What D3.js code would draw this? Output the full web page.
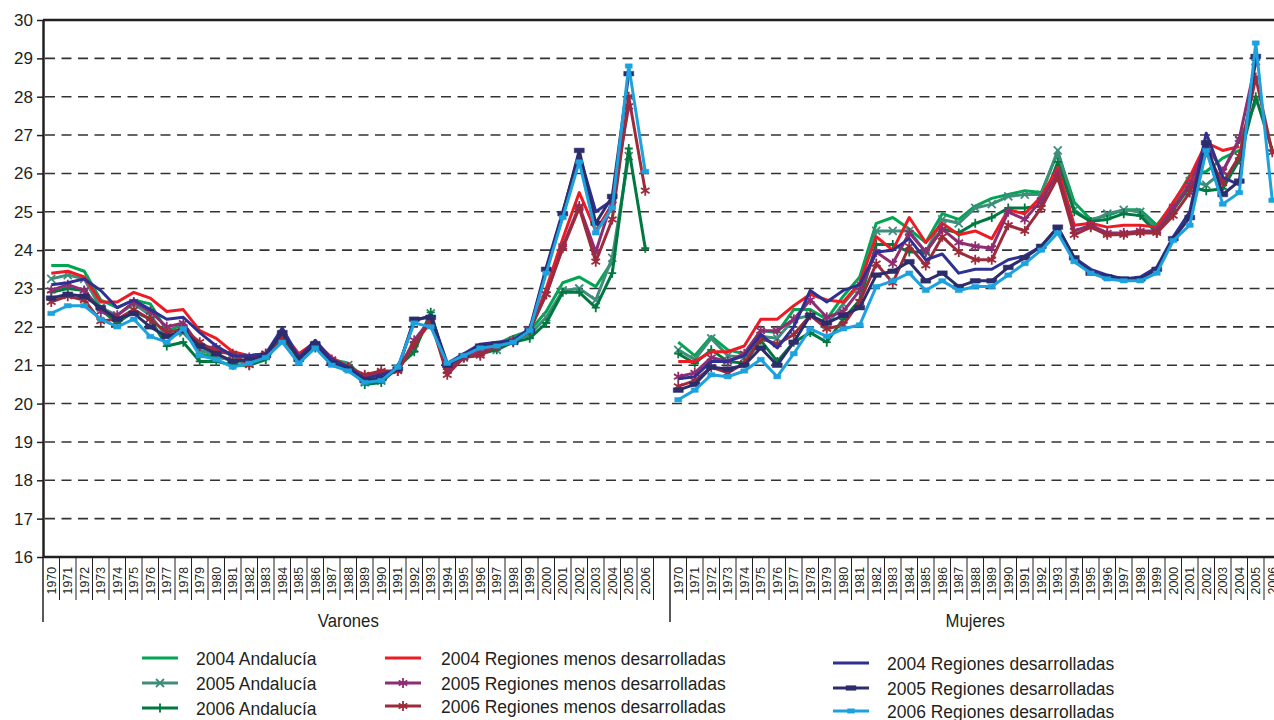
<!DOCTYPE html>
<html>
<head>
<meta charset="utf-8">
<script src="https://cdn.jsdelivr.net/npm/d3@7"></script>
<style>
  html, body { margin: 0; padding: 0; background: #fff; overflow: hidden; }
  svg { display: block; }
</style>
</head>
<body>
<svg id="chart" width="1274" height="720"></svg>
<script>
// ---- categories ----
const years = [1970,1971,1972,1973,1974,1975,1976,1977,1978,1979,1980,1981,1982,1983,1984,1985,1986,1987,1988,1989,
               1990,1991,1992,1993,1994,1995,1996,1997,1998,1999,2000,2001,2002,2003,2004,2005,2006];
const groups = ["Varones", "Mujeres"];
const yTicks = [16,17,18,19,20,21,22,23,24,25,26,27,28,29,30];

const seriesNames = [
  "2004 Andalucía", "2005 Andalucía", "2006 Andalucía",
  "2004 Regiones menos desarrolladas", "2005 Regiones menos desarrolladas", "2006 Regiones menos desarrolladas",
  "2004 Regiones desarrolladas", "2005 Regiones desarrolladas", "2006 Regiones desarrolladas"
];

// ---- Varones (1970–2006) ----
const varAnd2004 = [23.6,23.6,23.45,22.7,22.5,22.7,22.6,21.9,22.05,21.3,21.2,21.15,21.1,21.2,21.8,21.25,21.55,21.15,21.05,20.65,
                    20.65,20.95,21.4,22.3,20.95,21.25,21.4,21.55,21.75,21.9,22.4,23.15,23.3,23.05,23.7,null,null];
const varAnd2005 = [23.25,23.35,23.25,22.5,22.3,22.6,22.3,21.75,21.85,21.4,21.25,21.1,21.05,21.25,21.75,21.2,21.5,21.1,21.0,20.55,
                    20.6,20.9,21.45,22.35,20.9,21.2,21.35,21.4,21.65,21.8,22.25,22.95,23.0,22.7,23.8,26.45,null];
const varAnd2006 = [22.9,23.0,22.95,22.45,22.1,22.4,22.2,21.5,21.6,21.1,21.1,21.0,21.0,21.15,21.7,21.2,21.45,21.1,20.95,20.5,
                    20.55,20.95,21.35,22.38,20.9,21.2,21.3,21.4,21.6,21.7,22.1,22.9,22.9,22.5,23.4,26.65,24.05];
const varRmd2004 = [23.4,23.45,23.3,22.65,22.65,22.9,22.75,22.4,22.45,21.9,21.7,21.35,21.25,21.3,21.85,21.3,21.6,21.2,20.95,20.7,
                    20.8,20.85,21.6,22.1,20.9,21.25,21.4,21.5,21.6,21.9,23.0,24.3,25.5,24.5,25.2,null,null];
const varRmd2005 = [22.95,23.1,22.95,22.4,22.3,22.65,22.4,22.0,22.1,21.5,21.45,21.25,21.2,21.3,21.8,21.2,21.55,21.15,20.95,20.7,
                    20.8,20.85,21.65,22.2,20.85,21.2,21.3,21.5,21.65,21.95,22.85,24.1,25.15,23.95,25.3,27.75,null];
const varRmd2006 = [22.65,22.8,22.7,22.15,22.2,22.45,22.2,21.85,21.95,21.6,21.35,21.3,21.0,21.3,21.75,21.2,21.55,21.1,20.95,20.75,
                    20.85,20.85,21.55,22.15,20.75,21.2,21.25,21.5,21.6,21.9,22.85,24.05,25.1,23.7,24.8,28.0,25.55];
const varRd2004  = [23.1,23.15,23.25,22.95,22.5,22.7,22.45,22.2,22.25,21.85,21.5,21.25,21.25,21.3,21.97,21.2,21.65,21.15,20.95,20.65,
                    20.75,20.9,22.15,22.3,21.05,21.3,21.55,21.6,21.65,21.95,23.55,25.0,26.5,25.0,25.3,null,null];
const varRd2005  = [22.75,22.85,22.8,22.5,22.2,22.35,22.0,21.75,21.9,21.5,21.3,21.1,21.15,21.25,21.85,21.15,21.55,21.05,20.9,20.6,
                    20.65,20.9,22.2,22.25,21.0,21.25,21.5,21.55,21.6,21.9,23.5,24.95,26.6,24.7,25.4,28.6,null];
const varRd2006  = [22.35,22.55,22.55,22.2,22.0,22.2,21.75,21.6,21.95,21.25,21.15,20.95,21.05,21.2,21.6,21.05,21.45,21.0,20.85,20.55,
                    20.6,20.95,22.1,22.0,21.05,21.25,21.45,21.5,21.6,21.9,23.4,24.85,26.3,24.45,25.1,28.8,26.05];

// ---- Mujeres (1970–2006) ----
const mujAnd2004 = [21.6,21.25,21.75,21.4,21.3,21.9,21.85,22.45,22.45,22.2,22.8,23.3,24.7,24.85,24.55,24.2,24.95,24.8,25.15,25.35,
                    25.45,25.55,25.5,26.55,25.25,24.8,24.9,25.05,25.05,24.65,25.2,25.95,26.05,26.4,26.6,null,null];
const mujAnd2005 = [21.4,21.15,21.7,21.25,21.2,21.75,21.7,22.2,22.3,22.05,22.6,23.1,24.5,24.5,24.5,23.95,24.8,24.7,25.1,25.2,
                    25.4,25.45,25.45,26.6,25.05,24.75,24.95,25.05,25.0,24.55,25.1,25.8,25.7,26.05,26.85,27.85,null];
const mujAnd2006 = [21.3,21.05,21.4,21.1,21.05,21.65,21.1,21.6,21.85,21.6,22.2,22.7,24.15,24.15,23.95,23.95,24.55,24.45,24.7,24.85,
                    25.1,25.1,25.15,26.3,25.0,24.75,24.8,24.95,24.9,24.45,25.05,25.65,25.55,25.6,26.35,28.0,26.6];
const mujRmd2004 = [21.1,21.1,21.35,21.35,21.5,22.2,22.2,22.55,22.85,22.7,22.65,23.15,24.35,24.0,24.85,24.2,24.7,24.4,24.5,24.3,
                    25.05,24.95,25.4,26.15,24.65,24.7,24.6,24.65,24.65,24.6,25.25,25.9,26.8,26.6,26.7,null,null];
const mujRmd2005 = [20.7,20.8,21.2,21.1,21.3,21.9,21.9,22.2,22.7,22.25,22.4,22.95,23.95,23.65,24.45,23.95,24.55,24.2,24.1,24.05,
                    25.0,24.8,25.3,26.0,24.5,24.65,24.45,24.45,24.5,24.5,25.1,25.7,26.75,26.05,26.9,28.9,null];
const mujRmd2006 = [20.45,20.6,20.95,20.8,21.05,21.7,21.55,21.8,22.3,21.95,22.05,22.65,23.65,23.15,24.1,23.6,24.35,23.95,23.75,23.75,
                    24.65,24.5,25.1,25.9,24.4,24.6,24.4,24.4,24.45,24.45,24.9,25.5,26.55,25.75,26.45,28.5,26.55];
const mujRd2004  = [20.65,20.7,21.1,21.1,21.25,21.8,21.45,22.0,22.95,22.65,22.95,23.1,23.95,24.0,24.3,23.75,23.9,23.4,23.5,23.5,
                    23.75,23.85,24.1,24.6,23.8,23.5,23.35,23.25,23.3,23.55,24.35,25.0,27.05,25.9,25.7,null,null];
const mujRd2005  = [20.35,20.5,20.95,20.9,21.0,21.45,21.0,21.6,22.3,22.1,22.3,22.5,23.35,23.45,23.7,23.2,23.4,23.05,23.2,23.2,
                    23.55,23.8,24.1,24.6,23.8,23.4,23.3,23.25,23.25,23.5,24.3,24.85,26.8,25.45,25.8,29.05,null];
const mujRd2006  = [20.1,20.35,20.75,20.7,20.85,21.15,20.7,21.3,21.95,21.75,21.95,22.05,23.05,23.2,23.4,22.95,23.2,22.95,23.05,23.05,
                    23.35,23.65,24.0,24.45,23.7,23.4,23.25,23.2,23.2,23.4,24.25,24.65,26.6,25.2,25.5,29.4,25.3];

const varonesSeries = [varAnd2004, varAnd2005, varAnd2006, varRmd2004, varRmd2005, varRmd2006, varRd2004, varRd2005, varRd2006];
const mujeresSeries = [mujAnd2004, mujAnd2005, mujAnd2006, mujRmd2004, mujRmd2005, mujRmd2006, mujRd2004, mujRd2005, mujRd2006];

// ---- look of each series ----
const styles = [
  { color: "#00a651", marker: null },
  { color: "#3f8d7c", marker: "x" },
  { color: "#00793f", marker: "plus" },
  { color: "#ed1c24", marker: null },
  { color: "#8f2d72", marker: "star" },
  { color: "#9c2b3b", marker: "star" },
  { color: "#2e3192", marker: null },
  { color: "#2c2d6b", marker: "bar" },
  { color: "#1ca2de", marker: "tick" }
];

const ink = "#231f20";
const textFont = "'Liberation Sans', Arial, sans-serif";
const svg = d3.select("#chart");

// ---- scales ----
const band = 16.5;
const keys = [];
groups.forEach(g => { years.forEach(yr => keys.push(g + "|" + yr)); keys.push(g + "|"); });
const x = d3.scaleBand().domain(keys).range([43, 43 + keys.length * band]).padding(0);
const y = d3.scaleLinear().domain([16, 30]).range([557, 20]);
const xRight = x.range()[1];

// ---- grid ----
svg.append("g").selectAll("line")
  .data(yTicks.filter(t => t > 16 && t < 30))
  .join("line")
  .attr("x1", 45).attr("x2", xRight)
  .attr("y1", d => y(d)).attr("y2", d => y(d))
  .attr("stroke", "#333").attr("stroke-width", 1.6)
  .attr("stroke-dasharray", "10,6.5");

// top frame
svg.append("line")
  .attr("x1", 43).attr("x2", xRight).attr("y1", y(30)).attr("y2", y(30))
  .attr("stroke", ink).attr("stroke-width", 2.5);

// ---- y axis ----
const yAxis = svg.append("g")
  .attr("transform", "translate(43,0)")
  .call(d3.axisLeft(y).tickValues(yTicks).tickSize(6).tickSizeOuter(0).tickPadding(4));
yAxis.select(".domain").attr("stroke", ink).attr("stroke-width", 2.5);
yAxis.selectAll(".tick line").attr("stroke", ink).attr("stroke-width", 1.5);
yAxis.selectAll(".tick text")
  .attr("fill", ink)
  .style("font-family", textFont)
  .style("font-size", "17px");

// ---- x axis ----
const xAxisG = svg.append("g");
xAxisG.append("line")
  .attr("x1", 43).attr("x2", xRight).attr("y1", 557).attr("y2", 557)
  .attr("stroke", ink).attr("stroke-width", 2.5);

// category separators
const bounds = d3.range(keys.length + 1);
xAxisG.selectAll("line.sep")
  .data(bounds)
  .join("line")
  .attr("class", "sep")
  .attr("x1", i => 43 + i * band).attr("x2", i => 43 + i * band)
  .attr("y1", 557)
  .attr("y2", i => (i % (years.length + 1) === 0) ? 622 : 600)
  .attr("stroke", ink).attr("stroke-width", i => (i % (years.length + 1) === 0) ? 1.5 : 1);

// year labels (condensed by a horizontal squeeze of the rotated glyphs)
xAxisG.selectAll("text.yr")
  .data(keys.filter(k => k.split("|")[1] !== ""))
  .join("text")
  .attr("class", "yr")
  .attr("transform", k => `translate(${x(k) + band / 2},567) rotate(-90) scale(0.95,1)`)
  .attr("text-anchor", "end")
  .attr("dy", "0.36em")
  .attr("fill", ink)
  .style("font-family", textFont)
  .style("font-size", "13px")
  .text(k => k.split("|")[1]);

// group labels
xAxisG.selectAll("text.grp")
  .data(groups)
  .join("text")
  .attr("class", "grp")
  .attr("transform", g => `translate(${(x(g + "|" + years[0]) + x(g + "|" + years[years.length - 1]) + band) / 2},627) scale(0.88,1)`)
  .attr("text-anchor", "middle")
  .attr("fill", ink)
  .style("font-family", textFont)
  .style("font-size", "19px")
  .text(g => g);

// ---- markers ----
function markerPath(type) {
  switch (type) {
    case "x":    return "M-4,-4L4,4M-4,4L4,-4";
    case "plus": return "M0,-4.5L0,4.5M-4,0L4,0";
    case "star": return "M0,-5L0,5M-4.3,-2.6L4.3,2.6M-4.3,2.6L4.3,-2.6";
    case "bar":  return "M-5,-2.3H5V2.3H-5Z";
    case "tick": return "M-3.5,-2.2H3.5V2.2H-3.5Z";
  }
  return null;
}
function drawMarker(sel, type, color) {
  const p = markerPath(type);
  if (!p) return;
  const filled = (type === "bar" || type === "tick");
  sel.append("path")
    .attr("d", p)
    .attr("fill", filled ? color : "none")
    .attr("stroke", color)
    .attr("stroke-width", filled ? 0.5 : 1.8);
}

// ---- lines ----
const plot = svg.append("g");
const line = d3.line()
  .defined(d => d.v !== null)
  .x(d => x(d.k) + band / 2)
  .y(d => y(d.v));

styles.forEach((st, si) => {
  groups.forEach((g, gi) => {
    const vals = (gi === 0 ? varonesSeries : mujeresSeries)[si];
    const pts = years.map((yr, i) => ({ k: g + "|" + yr, v: vals[i] }));
    const sg = plot.append("g");
    sg.append("path")
      .datum(pts)
      .attr("d", line)
      .attr("fill", "none")
      .attr("stroke", st.color)
      .attr("stroke-width", 3)
      .attr("stroke-linejoin", "round");
    if (st.marker) {
      sg.selectAll("g.m")
        .data(pts.filter(d => d.v !== null))
        .join("g")
        .attr("class", "m")
        .attr("transform", d => `translate(${x(d.k) + band / 2},${y(d.v)})`)
        .each(function () { drawMarker(d3.select(this), st.marker, st.color); });
    }
  });
});

// ---- legend ----
const legendCols = [
  { sx: 142, tx: 196, ys: [658, 683, 708] },
  { sx: 385, tx: 441, ys: [658, 683, 706] },
  { sx: 833, tx: 887, ys: [663, 688, 711] }
];
const legend = svg.append("g");
seriesNames.forEach((name, i) => {
  const col = legendCols[Math.floor(i / 3)];
  const yy = col.ys[i % 3];
  const st = styles[i];
  const item = legend.append("g");
  item.append("line")
    .attr("x1", col.sx).attr("x2", col.sx + 36)
    .attr("y1", yy).attr("y2", yy)
    .attr("stroke", st.color).attr("stroke-width", 3);
  if (st.marker) {
    item.append("g")
      .attr("transform", `translate(${col.sx + 18},${yy})`)
      .call(s => drawMarker(s, st.marker, st.color));
  }
  item.append("text")
    .attr("transform", `translate(${col.tx},${yy}) scale(0.92,1)`)
    .attr("dy", "0.35em")
    .attr("fill", ink)
    .style("font-family", textFont)
    .style("font-size", "19px")
    .text(name);
});
</script>
</body>
</html>
